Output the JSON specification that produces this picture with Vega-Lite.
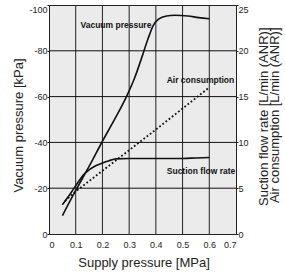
{
  "$schema": "https://vega.github.io/schema/vega-lite/v6.json",
  "width": 187,
  "height": 229,
  "autosize": "none",
  "padding": {"left": 49, "top": 5, "right": 49, "bottom": 38},
  "background": "white",
  "config": {
    "view": {"fill": "#ebebeb", "stroke": "#222222", "strokeWidth": 1},
    "axis": {
      "labelFont": "Liberation Sans",
      "labelFontSize": 9,
      "labelColor": "#222222",
      "labelOverlap": false,
      "titleFont": "Liberation Sans",
      "titleFontSize": 13,
      "titleFontWeight": "normal",
      "titleColor": "#222222",
      "domainColor": "#222222",
      "tickColor": "#222222",
      "grid": false,
      "tickSize": 2
    }
  },
  "encoding": {
    "x": {
      "field": "p", "type": "quantitative",
      "scale": {"domain": [0, 0.7], "nice": false},
      "axis": {
        "values": [0, 0.1, 0.2, 0.3, 0.4, 0.5, 0.6, 0.7],
        "format": ".1~f",
        "tickSize": 0,
        "labelPadding": 6,
        "title": "Supply pressure [MPa]",
        "titleX": 94.5,
        "titleY": 32,
        "titleAlign": "center",
        "titleBaseline": "alphabetic"
      }
    }
  },
  "resolve": {"scale": {"y": "independent"}, "axis": {"y": "independent"}},
  "layer": [
    {
      "data": {"values": [
        {"p": 0.1}, {"p": 0.2}, {"p": 0.3}, {"p": 0.4}, {"p": 0.5}, {"p": 0.6}
      ]},
      "mark": {"type": "rule", "color": "#222222", "strokeWidth": 1},
      "encoding": {}
    },
    {
      "data": {"values": [
        {"s": "g20", "kind": "grid", "p": 0, "v": -20}, {"s": "g20", "kind": "grid", "p": 0.7, "v": -20},
        {"s": "g40", "kind": "grid", "p": 0, "v": -40}, {"s": "g40", "kind": "grid", "p": 0.7, "v": -40},
        {"s": "g60", "kind": "grid", "p": 0, "v": -60}, {"s": "g60", "kind": "grid", "p": 0.7, "v": -60},
        {"s": "g80", "kind": "grid", "p": 0, "v": -80}, {"s": "g80", "kind": "grid", "p": 0.7, "v": -80},
        {"s": "vac", "kind": "curve", "p": 0.05, "v": -8}, {"s": "vac", "kind": "curve", "p": 0.1, "v": -19},
        {"s": "vac", "kind": "curve", "p": 0.15, "v": -29.5}, {"s": "vac", "kind": "curve", "p": 0.2, "v": -40.5},
        {"s": "vac", "kind": "curve", "p": 0.25, "v": -51}, {"s": "vac", "kind": "curve", "p": 0.29, "v": -60},
        {"s": "vac", "kind": "curve", "p": 0.32, "v": -68}, {"s": "vac", "kind": "curve", "p": 0.35, "v": -78},
        {"s": "vac", "kind": "curve", "p": 0.37, "v": -85}, {"s": "vac", "kind": "curve", "p": 0.39, "v": -91},
        {"s": "vac", "kind": "curve", "p": 0.41, "v": -93.8}, {"s": "vac", "kind": "curve", "p": 0.44, "v": -95.2},
        {"s": "vac", "kind": "curve", "p": 0.47, "v": -95.5}, {"s": "vac", "kind": "curve", "p": 0.52, "v": -95.2},
        {"s": "vac", "kind": "curve", "p": 0.56, "v": -94.5}, {"s": "vac", "kind": "curve", "p": 0.6, "v": -94}
      ]},
      "mark": {"type": "line", "color": "#111111", "interpolate": "monotone"},
      "encoding": {
        "detail": {"field": "s", "type": "nominal"},
        "strokeWidth": {"field": "kind", "type": "nominal", "scale": {"domain": ["grid", "curve"], "range": [1, 1.6]}, "legend": null},
        "y": {
          "field": "v", "type": "quantitative",
          "scale": {"domain": [0, -100], "nice": false, "zero": false},
          "axis": {
            "orient": "left",
            "values": [0, -20, -40, -60, -80, -100],
            "labelExpr": "'' + datum.value",
            "labelPadding": 0,
            "labelBaseline": {"condition": {"test": "datum.value == -100", "value": "top"}, "value": "middle"},
            "title": "Vacuum pressure [kPa]",
            "titleAngle": 270,
            "titleX": -27,
            "titleY": 120,
            "titleAlign": "center",
            "titleBaseline": "alphabetic"
          }
        }
      }
    },
    {
      "data": {"values": [
        {"label": "Vacuum pressure", "p": 0.2506, "v": -91.3},
        {"label": "Air consumption", "p": 0.567, "v": -67.2},
        {"label": "Suction flow rate", "p": 0.569, "v": -27.5}
      ]},
      "mark": {"type": "text", "font": "Liberation Sans", "fontWeight": "bold", "fontSize": 8.5, "color": "#111111", "align": "center", "baseline": "middle"},
      "encoding": {
        "y": {"field": "v", "type": "quantitative", "scale": {"domain": [0, -100], "nice": false, "zero": false}, "axis": null},
        "text": {"field": "label"}
      }
    },
    {
      "data": {"values": [
        {"p": 0.05, "f": 3.2}, {"p": 0.08, "f": 4.4}, {"p": 0.11, "f": 5.7},
        {"p": 0.13, "f": 6.5}, {"p": 0.15, "f": 7.0}, {"p": 0.175, "f": 7.45},
        {"p": 0.2, "f": 7.75}, {"p": 0.225, "f": 8.0}, {"p": 0.25, "f": 8.2},
        {"p": 0.3, "f": 8.25}, {"p": 0.4, "f": 8.25}, {"p": 0.5, "f": 8.25},
        {"p": 0.55, "f": 8.3}, {"p": 0.6, "f": 8.35}
      ]},
      "mark": {"type": "line", "color": "#111111", "strokeWidth": 1.6, "interpolate": "monotone"},
      "encoding": {
        "y": {
          "field": "f", "type": "quantitative",
          "scale": {"domain": [0, 25], "nice": false},
          "axis": {
            "orient": "right",
            "values": [0, 5, 10, 15, 20, 25],
            "labelPadding": 0,
            "labelBaseline": {"condition": {"test": "datum.value == 25", "value": "top"}, "value": "middle"},
            "title": ["Suction flow rate [L/min (ANR)]", "Air consumption [L/min (ANR)]"],
            "titleAngle": 270,
            "titleX": 31,
            "titleY": 22,
            "titleAlign": "right",
            "titleBaseline": "alphabetic",
            "titleLineHeight": 11
          }
        }
      }
    },
    {
      "data": {"values": [
        {"p": 0.06, "f": 3.6}, {"p": 0.1, "f": 4.65}, {"p": 0.2, "f": 6.9},
        {"p": 0.3, "f": 9.15}, {"p": 0.4, "f": 11.4}, {"p": 0.5, "f": 13.7},
        {"p": 0.6, "f": 16.0}
      ]},
      "mark": {"type": "line", "color": "#111111", "strokeWidth": 1.8, "strokeDash": [1.8, 2.2]},
      "encoding": {
        "y": {"field": "f", "type": "quantitative", "scale": {"domain": [0, 25], "nice": false}, "axis": null}
      }
    }
  ]
}
